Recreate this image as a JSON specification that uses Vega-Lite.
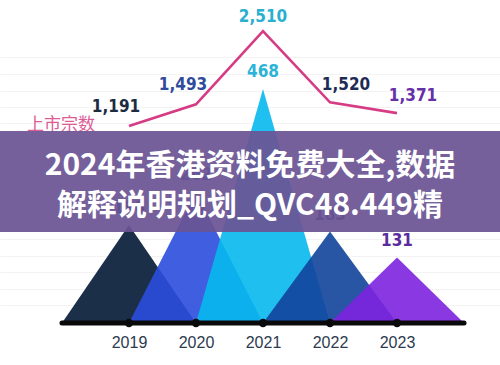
{
  "$schema": "https://vega.github.io/schema/vega-lite/v6.json",
  "width": 500,
  "height": 323,
  "autosize": {"type": "none"},
  "padding": {"left": 0, "top": 0, "right": 0, "bottom": 42},
  "background": "#ffffff",
  "config": {"view": {"stroke": null}},
  "datasets": {
    "peaks": [
      {"s": "2019", "yr": 2018, "v": 0}, {"s": "2019", "yr": 2019, "v": 196}, {"s": "2019", "yr": 2020, "v": 0},
      {"s": "2020", "yr": 2019, "v": 0}, {"s": "2020", "yr": 2020, "v": 262}, {"s": "2020", "yr": 2021, "v": 0},
      {"s": "2021", "yr": 2020, "v": 0}, {"s": "2021", "yr": 2021, "v": 468}, {"s": "2021", "yr": 2022, "v": 0},
      {"s": "2022", "yr": 2021, "v": 0}, {"s": "2022", "yr": 2022, "v": 183}, {"s": "2022", "yr": 2023, "v": 0},
      {"s": "2023", "yr": 2022, "v": 0}, {"s": "2023", "yr": 2023, "v": 131}, {"s": "2023", "yr": 2024, "v": 0}
    ],
    "listings": [
      {"year": 2019, "count": 1191},
      {"year": 2020, "count": 1493},
      {"year": 2021, "count": 2510},
      {"year": 2022, "count": 1520},
      {"year": 2023, "count": 1371}
    ]
  },
  "resolve": {"scale": {"y": "independent", "color": "independent"}},
  "layer": [
    {
      "data": {"name": "peaks"},
      "mark": {"type": "area", "opacity": 0.9, "line": false, "interpolate": "linear"},
      "encoding": {
        "x": {"field": "yr", "type": "quantitative",
              "scale": {"domain": [2017.075, 2024.537], "nice": false, "zero": false},
              "axis": {"values": [2019, 2020, 2021, 2022, 2023], "format": "d", "domain": false, "ticks": false, "grid": false,
                       "labelFontSize": 16, "labelColor": "#2d3b4f", "labelPadding": 11, "labelFont": "Liberation Sans", "title": null}},
        "y": {"field": "v", "type": "quantitative", "stack": null,
              "scale": {"domain": [0, 646], "nice": false},
              "axis": {"grid": true, "gridColor": "#f3f3f3", "gridWidth": 1, "labels": false, "ticks": false, "domain": false, "title": null,
                       "values": [36, 69, 102, 135, 168, 201, 234, 267, 300, 333, 366, 399, 432, 465, 498, 531]}},
        "color": {"field": "s", "type": "nominal",
                  "scale": {"domain": ["2019", "2020", "2021", "2022", "2023"], "range": ["#031834", "#2b4edd", "#07b9ee", "#12429b", "#7d24df"]},
                  "legend": null}
      }
    },
    {
      "data": {"values": [{}]},
      "mark": {"type": "rule", "color": "#0a0a0a", "strokeWidth": 5, "strokeCap": "round"},
      "encoding": {
        "x": {"datum": 2018, "type": "quantitative"},
        "x2": {"datum": 2024},
        "y": {"datum": 0, "type": "quantitative", "scale": {"domain": [0, 646], "nice": false}, "axis": null}
      }
    },
    {
      "data": {"name": "peaks"},
      "transform": [{"filter": "datum.v > 0"}],
      "mark": {"type": "circle", "color": "#0a0a0a", "opacity": 1, "size": 70},
      "encoding": {
        "x": {"field": "yr", "type": "quantitative"},
        "y": {"datum": 0, "type": "quantitative", "scale": {"domain": [0, 646], "nice": false}, "axis": null}
      }
    },
    {
      "data": {"name": "peaks"},
      "transform": [{"filter": "datum.v > 0"}],
      "mark": {"type": "text", "font": "DejaVu Sans Condensed, Liberation Sans, sans-serif", "fontWeight": "bold", "fontSize": 17, "dy": -17, "baseline": "middle", "align": "center"},
      "encoding": {
        "x": {"field": "yr", "type": "quantitative"},
        "y": {"field": "v", "type": "quantitative", "scale": {"domain": [0, 646], "nice": false}, "axis": null},
        "text": {"field": "v", "type": "quantitative", "format": "d"},
        "color": {"field": "s", "type": "nominal",
                  "scale": {"domain": ["2019", "2020", "2021", "2022", "2023"], "range": ["#1d2b3f", "#2f4c9c", "#2bb3d8", "#1d2b55", "#5b2c9e"]},
                  "legend": null}
      }
    },
    {
      "data": {"name": "listings"},
      "mark": {"type": "line", "color": "#d63c84", "strokeWidth": 2.6},
      "encoding": {
        "x": {"field": "year", "type": "quantitative"},
        "y": {"field": "count", "type": "quantitative", "scale": {"domain": [-1544, 2942], "nice": false, "zero": false}, "axis": null}
      }
    },
    {
      "data": {"name": "listings"},
      "transform": [{"filter": "datum.year <= 2020"}],
      "mark": {"type": "text", "font": "DejaVu Sans Condensed, Liberation Sans, sans-serif", "fontWeight": "bold", "fontSize": 17, "dx": -13, "dy": -19, "baseline": "middle", "align": "center"},
      "encoding": {
        "x": {"field": "year", "type": "quantitative"},
        "y": {"field": "count", "type": "quantitative", "scale": {"domain": [-1544, 2942], "nice": false, "zero": false}, "axis": null},
        "text": {"field": "count", "type": "quantitative", "format": ",d"},
        "color": {"field": "year", "type": "nominal",
                  "scale": {"domain": [2019, 2020, 2021, 2022, 2023], "range": ["#1d2b3f", "#2f4c9c", "#29afcf", "#1d2b55", "#6530a8"]},
                  "legend": null}
      }
    },
    {
      "data": {"name": "listings"},
      "transform": [{"filter": "datum.year == 2021"}],
      "mark": {"type": "text", "font": "DejaVu Sans Condensed, Liberation Sans, sans-serif", "fontWeight": "bold", "fontSize": 17, "dx": 0, "dy": -14, "baseline": "middle", "align": "center"},
      "encoding": {
        "x": {"field": "year", "type": "quantitative"},
        "y": {"field": "count", "type": "quantitative", "scale": {"domain": [-1544, 2942], "nice": false, "zero": false}, "axis": null},
        "text": {"field": "count", "type": "quantitative", "format": ",d"},
        "color": {"field": "year", "type": "nominal",
                  "scale": {"domain": [2019, 2020, 2021, 2022, 2023], "range": ["#1d2b3f", "#2f4c9c", "#29afcf", "#1d2b55", "#6530a8"]},
                  "legend": null}
      }
    },
    {
      "data": {"name": "listings"},
      "transform": [{"filter": "datum.year >= 2022"}],
      "mark": {"type": "text", "font": "DejaVu Sans Condensed, Liberation Sans, sans-serif", "fontWeight": "bold", "fontSize": 17, "dx": 16, "dy": -17, "baseline": "middle", "align": "center"},
      "encoding": {
        "x": {"field": "year", "type": "quantitative"},
        "y": {"field": "count", "type": "quantitative", "scale": {"domain": [-1544, 2942], "nice": false, "zero": false}, "axis": null},
        "text": {"field": "count", "type": "quantitative", "format": ",d"},
        "color": {"field": "year", "type": "nominal",
                  "scale": {"domain": [2019, 2020, 2021, 2022, 2023], "range": ["#1d2b3f", "#2f4c9c", "#29afcf", "#1d2b55", "#6530a8"]},
                  "legend": null}
      }
    },
    {
      "data": {"name": "listings"},
      "transform": [{"filter": "datum.year == 2019"}],
      "mark": {"type": "text", "text": "上市宗数", "font": "Noto Sans CJK SC", "fontSize": 17, "color": "#dc5c96", "dx": -68, "dy": -1, "baseline": "middle", "align": "center"},
      "encoding": {
        "x": {"field": "year", "type": "quantitative"},
        "y": {"field": "count", "type": "quantitative", "scale": {"domain": [-1544, 2942], "nice": false, "zero": false}, "axis": null}
      }
    },
    {
      "data": {"values": [{}]},
      "mark": {"type": "rect", "color": "#6a5494", "opacity": 0.93},
      "encoding": {
        "x": {"datum": 2017.075, "type": "quantitative"},
        "x2": {"datum": 2024.537},
        "y": {"datum": 384, "type": "quantitative", "scale": {"domain": [0, 646], "nice": false}, "axis": null},
        "y2": {"datum": 182}
      }
    },
    {
      "data": {"values": [{}]},
      "mark": {"type": "text", "text": ["2024年香港资料免费大全,数据", "解释说明规划_QVC48.449精"], "font": "Noto Sans CJK SC", "fontWeight": "bold", "fontSize": 30, "lineHeight": 40, "color": "#ffffff", "align": "center", "baseline": "middle"},
      "encoding": {
        "x": {"datum": 2020.806, "type": "quantitative"},
        "y": {"datum": 314, "type": "quantitative", "scale": {"domain": [0, 646], "nice": false}, "axis": null}
      }
    }
  ]
}
